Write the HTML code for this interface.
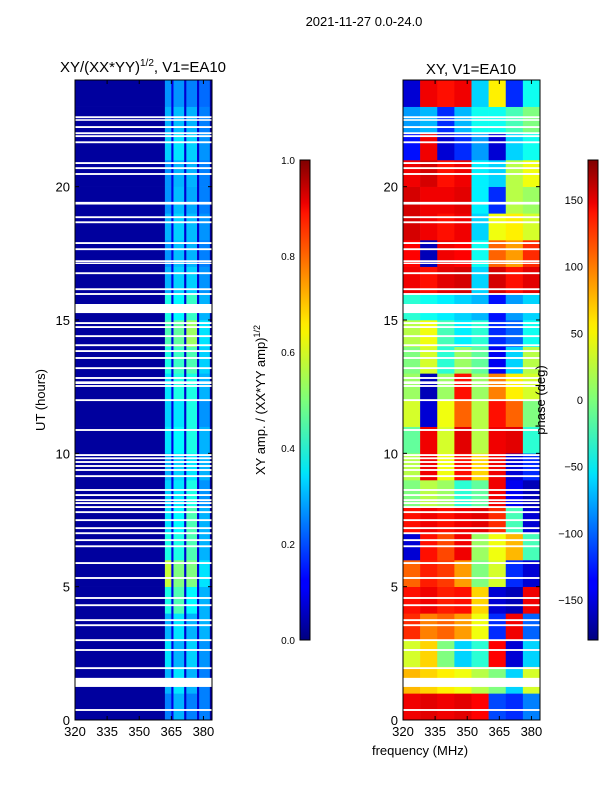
<!DOCTYPE html>
<html><head><meta charset="utf-8"><style>
body{margin:0;background:#fff;width:600px;height:800px;overflow:hidden;font-family:"Liberation Sans","DejaVu Sans",sans-serif}
text{font-family:"Liberation Sans","DejaVu Sans",sans-serif;fill:#000}
</style></head><body>
<svg id="c" width="600" height="800" xmlns="http://www.w3.org/2000/svg">
<defs><linearGradient id="jet" x1="0" y1="1" x2="0" y2="0">
<stop offset="0" stop-color="#00007f"/><stop offset="0.11" stop-color="#0000ff"/><stop offset="0.125" stop-color="#0000ff"/>
<stop offset="0.34" stop-color="#00dcff"/><stop offset="0.35" stop-color="#00e5f7"/><stop offset="0.5" stop-color="#7dff7a"/>
<stop offset="0.64" stop-color="#f7f400"/><stop offset="0.66" stop-color="#ffea00"/><stop offset="0.89" stop-color="#ff1300"/>
<stop offset="0.91" stop-color="#ed0000"/><stop offset="1" stop-color="#7f0000"/></linearGradient></defs>
<text x="364" y="26" font-size="13" text-anchor="middle">2021-11-27 0.0-24.0</text>
<text x="143" y="72" font-size="15" text-anchor="middle">XY/(XX*YY)<tspan font-size="10" dy="-6">1/2</tspan><tspan dy="6">, V1=EA10</tspan></text>
<text x="471" y="74" font-size="15" text-anchor="middle">XY, V1=EA10</text>
<g id="left"></g>
<g id="right"></g>
<g id="axes"></g>
<text x="420" y="755" font-size="13" text-anchor="middle">frequency (MHz)</text>
<text transform="translate(45,400) rotate(-90)" font-size="13" text-anchor="middle">UT (hours)</text>
<text transform="translate(265,400) rotate(-90)" font-size="13" text-anchor="middle">XY amp. / (XX*YY amp)<tspan font-size="9" dy="-5">1/2</tspan></text>
<text transform="translate(545,400) rotate(-90)" font-size="13" text-anchor="middle">phase (deg)</text>
<rect x="300" y="160" width="10" height="480" fill="url(#jet)" stroke="#000" stroke-width="1"/>
<rect x="588" y="160" width="10" height="480" fill="url(#jet)" stroke="#000" stroke-width="1"/>
</svg>
<script>
const hourTicks=[0,5,10,15,20];
const freqTicks=[320,335,350,365,380];
const ampTicks=[0.0,0.2,0.4,0.6,0.8,1.0];
const phaseTicks=[-150,-100,-50,0,50,100,150];
const ampFreqEdges=[320,362,365,366,371,372,377,378,383,384];
const ampRows=[
[0.03,0.25,0.10,0.30,0.08,0.25,0.08,0.25,0.03],
[0.03,0.30,0.10,0.35,0.08,0.30,0.08,0.25,0.03],
[0.03,0.35,0.10,0.30,0.08,0.33,0.08,0.27,0.03],
[0.03,0.30,0.10,0.35,0.08,0.30,0.08,0.30,0.03],
[0.03,0.40,0.10,0.45,0.08,0.37,0.08,0.30,0.03],
[0.03,0.57,0.10,0.50,0.08,0.50,0.08,0.35,0.03],
[0.03,0.40,0.10,0.40,0.08,0.45,0.08,0.30,0.03],
[0.03,0.35,0.10,0.37,0.08,0.45,0.08,0.30,0.03],
[0.03,0.33,0.10,0.35,0.08,0.40,0.08,0.27,0.03],
[0.03,0.30,0.10,0.33,0.08,0.35,0.08,0.30,0.03],
[0.03,0.35,0.10,0.37,0.08,0.40,0.08,0.30,0.03],
[0.03,0.33,0.10,0.35,0.08,0.40,0.08,0.27,0.03],
[0.03,0.35,0.10,0.40,0.08,0.40,0.08,0.30,0.03],
[0.03,0.40,0.10,0.43,0.08,0.45,0.08,0.33,0.03],
[0.03,0.45,0.10,0.47,0.08,0.53,0.08,0.35,0.03],
[0.03,0.40,0.10,0.37,0.08,0.43,0.08,0.30,0.03],
[0.03,0.30,0.10,0.33,0.08,0.33,0.08,0.27,0.03],
[0.03,0.27,0.10,0.31,0.08,0.30,0.08,0.25,0.03],
[0.03,0.30,0.10,0.33,0.08,0.31,0.08,0.27,0.03],
[0.03,0.27,0.10,0.31,0.08,0.29,0.08,0.25,0.03],
[0.03,0.27,0.10,0.30,0.08,0.30,0.08,0.25,0.03],
[0.03,0.33,0.10,0.35,0.08,0.33,0.08,0.27,0.03],
[0.03,0.30,0.10,0.31,0.08,0.30,0.08,0.25,0.03],
[0.03,0.27,0.10,0.27,0.08,0.25,0.08,0.23,0.03]];
const phaseFreqEdges=[320,328,336,344,352,360,368,376,384];
const phaseRows=[
[140,145,140,145,135,-110,-120,-90],
[70,60,50,40,20,0,-60,30],
[30,60,0,-60,-30,135,-150,-60],
[120,90,100,80,40,-120,140,-100],
[130,140,125,130,60,-150,-160,140],
[100,125,115,80,0,30,-120,-150],
[-150,130,110,140,10,40,70,-20],
[130,140,130,140,145,120,-20,-150],
[0,20,10,-30,-10,140,-140,-160],
[20,140,40,130,60,140,-150,-120],
[-10,140,30,145,20,140,145,-30],
[30,-150,40,100,20,130,100,0],
[10,-160,10,130,10,90,50,30],
[0,30,-30,10,-10,-140,-60,20],
[20,40,-20,-50,-30,-120,-100,-40],
[-30,-40,-50,-60,-70,-130,-80,-60],
[140,130,145,150,-60,150,130,145],
[135,-160,140,135,-40,100,80,120],
[150,140,130,140,-60,40,50,30],
[150,140,140,145,-50,-120,20,10],
[140,150,130,140,-50,-60,20,40],
[-130,140,-150,-120,-80,-150,-60,-40],
[-80,-70,-120,-70,-40,-40,-20,0],
[-150,140,130,140,-60,50,-120,-40]];
const gapHours=[[22.57,22.64],[22.47,22.53],[22.2,22.27],[21.97,22.04],[21.86,21.93],[21.63,21.7],[20.85,20.92],[20.66,20.73],[20.44,20.51],[19.33,19.43],[18.82,18.89],[18.63,18.7],[17.85,17.92],[17.62,17.69],[17.17,17.24],[17.1,17.15],[16.72,16.79],[16.12,16.19],[15.94,16.01],[15.26,15.6],[14.85,14.92],[14.7,14.77],[14.36,14.43],[14.02,14.09],[13.8,13.87],[13.54,13.61],[13.16,13.23],[12.79,12.86],[12.6,12.7],[12.49,12.56],[11.96,12.03],[10.84,10.91],[9.9,9.97],[9.78,9.85],[9.64,9.71],[9.49,9.56],[9.34,9.41],[9.11,9.18],[8.59,8.66],[8.4,8.47],[8.21,8.28],[8.1,8.17],[7.95,8.02],[7.76,7.83],[7.46,7.53],[7.16,7.23],[6.97,7.04],[6.71,6.78],[6.48,6.55],[5.85,5.92],[5.29,5.36],[4.54,4.61],[4.27,4.34],[3.71,3.78],[3.52,3.59],[2.96,3.03],[2.59,2.66],[1.91,1.98],[1.24,1.58],[0.34,0.41]];
const NS='http://www.w3.org/2000/svg';
const Y0=720,Y1=80,T=24;
function yS(h){return Y0-(h/T)*(Y0-Y1);}
function xL(f){return 75+(f-320)/(384-320)*137;}
function xR(f){return 403+(f-320)/(384-320)*137;}
function jet(v){v=Math.max(0,Math.min(1,v));const c=t=>Math.round(255*Math.max(0,Math.min(1,1.5-Math.abs(4*v-t))));return `rgb(${c(3)},${c(2)},${c(1)})`;}
function el(tag,attrs,parent){const e=document.createElementNS(NS,tag);for(const k in attrs)e.setAttribute(k,attrs[k]);parent.appendChild(e);return e;}
const L=document.getElementById('left'),R=document.getElementById('right'),A=document.getElementById('axes');
ampRows.forEach((row,h)=>{row.forEach((v,i)=>{
 const r=el('rect',{x:xL(ampFreqEdges[i]),y:yS(h+1),width:xL(ampFreqEdges[i+1])-xL(ampFreqEdges[i])+0.3,height:yS(h)-yS(h+1)+0.3,fill:jet(v)},L);
 
 
});});
phaseRows.forEach((row,h)=>{row.forEach((v,i)=>{
 const r=el('rect',{x:xR(phaseFreqEdges[i]),y:yS(h+1),width:xR(phaseFreqEdges[i+1])-xR(phaseFreqEdges[i])+0.3,height:yS(h)-yS(h+1)+0.3,fill:jet((v+180)/360)},R);
 
 
});});
gapHours.forEach(g=>{
 [[75,137],[403,137]].forEach(p=>{
  const r=el('rect',{x:p[0],y:yS(g[1]),width:p[1],height:yS(g[0])-yS(g[1]),fill:'#fff'},A);
  
  
 });
});
[[75,xL],[403,xR]].forEach(([x0,xf],pi)=>{
 const f=el('rect',{x:x0,y:80,width:137,height:640,fill:'none',stroke:'#000','stroke-width':1},A);
 
 
 hourTicks.forEach(h=>{
  el('line',{x1:x0,x2:x0+4,y1:yS(h),y2:yS(h),stroke:'#000'},A);
  el('line',{x1:x0+137,x2:x0+133,y1:yS(h),y2:yS(h),stroke:'#000'},A);
  const t=el('text',{x:x0-5,y:yS(h)+5,'font-size':13,'text-anchor':'end'},A);t.textContent=h;
  
  
 });
 freqTicks.forEach(fq=>{
  el('line',{x1:xf(fq),x2:xf(fq),y1:720,y2:716,stroke:'#000'},A);
  el('line',{x1:xf(fq),x2:xf(fq),y1:80,y2:84,stroke:'#000'},A);
  const t=el('text',{x:xf(fq),y:736,'font-size':13,'text-anchor':'middle'},A);t.textContent=fq;
  
  
 });
});
ampTicks.forEach(v=>{const y=640-v*480;
 el('line',{x1:300,x2:304,y1:y,y2:y,stroke:'#000'},A);el('line',{x1:310,x2:306,y1:y,y2:y,stroke:'#000'},A);
 const t=el('text',{x:295,y:y+4,'font-size':10,'text-anchor':'end'},A);t.textContent=v.toFixed(1);
 
 
});
phaseTicks.forEach(v=>{const y=640-(v+180)/360*480;
 el('line',{x1:588,x2:592,y1:y,y2:y,stroke:'#000'},A);el('line',{x1:598,x2:594,y1:y,y2:y,stroke:'#000'},A);
 const t=el('text',{x:583,y:y+4,'font-size':11,'text-anchor':'end'},A);t.textContent=v<0?'\u2212'+(-v):v;
 
 
});
</script>
</body></html>
